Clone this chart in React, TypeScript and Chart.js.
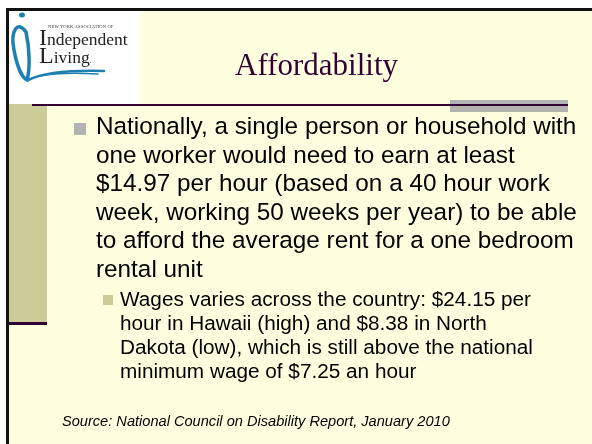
import React, { useEffect, useRef } from "react";
import { Chart, registerables } from "chart.js";

Chart.register(...registerables);

const titleText = "Affordability";
const mainLines = [
  "Nationally, a single person or household with",
  "one worker would need to earn at least",
  "$14.97 per hour (based on a 40 hour work",
  "week, working 50 weeks per year) to be able",
  "to afford the average rent for a one bedroom",
  "rental unit",
];
const subLines = [
  "Wages varies across the country: $24.15 per",
  "hour in Hawaii (high) and $8.38 in North",
  "Dakota (low), which is still above the national",
  "minimum wage of $7.25 an hour",
];
const sourceText = "Source:  National Council on Disability Report, January 2010";

const slidePlugin = {
  id: "slideDecor",
  beforeDraw(chart: any) {
    const ctx = chart.ctx as CanvasRenderingContext2D;
    ctx.save();
    ctx.fillStyle = "#ffffff";
    ctx.fillRect(0, 0, 592, 444);
    ctx.fillStyle = "#FFFFE0";
    ctx.fillRect(9, 10, 583, 434);
    // black frame
    ctx.fillStyle = "#111111";
    ctx.fillRect(6, 8, 586, 3);
    ctx.fillRect(6, 8, 3, 436);
    // logo box
    ctx.fillStyle = "#ffffff";
    ctx.fillRect(9, 11, 131, 93);
    // khaki panel
    ctx.fillStyle = "#CCCC99";
    ctx.fillRect(9, 104, 38, 218);
    ctx.fillStyle = "#330033";
    ctx.fillRect(9, 322, 38, 3);
    // gray bar + purple line
    ctx.fillStyle = "#B2B2B2";
    ctx.fillRect(450, 100, 118, 12);
    ctx.fillStyle = "#330033";
    ctx.fillRect(32, 104, 536, 2);
    // bullets
    ctx.fillStyle = "#B2B2B2";
    ctx.fillRect(74, 123, 12, 12);
    ctx.fillStyle = "#CCCC99";
    ctx.fillRect(103, 295, 10, 10);
    // logo swoosh
    ctx.strokeStyle = "#1F7FB0";
    ctx.fillStyle = "#1F7FB0";
    ctx.lineCap = "round";
    ctx.beginPath();
    ctx.ellipse(22, 15, 3, 2.5, 0, 0, Math.PI * 2);
    ctx.fill();
    ctx.lineWidth = 3.5;
    ctx.beginPath();
    ctx.moveTo(26, 32);
    ctx.bezierCurveTo(18, 20, 10, 30, 14, 50);
    ctx.bezierCurveTo(17, 66, 22, 78, 27, 80);
    ctx.bezierCurveTo(30, 70, 30, 50, 26, 32);
    ctx.stroke();
    ctx.lineWidth = 2.5;
    ctx.beginPath();
    ctx.moveTo(28, 80);
    ctx.bezierCurveTo(45, 72, 70, 70, 104, 71);
    ctx.stroke();
    ctx.lineWidth = 1.5;
    ctx.beginPath();
    ctx.moveTo(40, 76);
    ctx.bezierCurveTo(60, 72, 80, 73, 98, 74);
    ctx.stroke();
    ctx.restore();
  },
};

const abs = (s: React.CSSProperties): React.CSSProperties => ({
  position: "absolute",
  whiteSpace: "nowrap",
  margin: 0,
  ...s,
});

export default function App() {
  const ref = useRef<HTMLCanvasElement | null>(null);
  useEffect(() => {
    if (!ref.current) return;
    const chart = new Chart(ref.current, {
      type: "bar",
      data: { labels: [], datasets: [] },
      options: {
        responsive: false,
        animation: false,
        events: [],
        plugins: { legend: { display: false }, tooltip: { enabled: false }, title: { display: false } },
        scales: { x: { display: false }, y: { display: false } },
      },
      plugins: [slidePlugin],
    } as any);
    return () => chart.destroy();
  }, []);

  const sans = '"Liberation Sans", Arial, sans-serif';
  const serif = '"Liberation Serif", "Times New Roman", serif';
  return (
    <div style={{ position: "fixed", left: 0, top: 0, width: 592, height: 444, overflow: "hidden" }}>
      <canvas ref={ref} width={592} height={444} style={{ position: "absolute", left: 0, top: 0, width: 592, height: 444 }} />
      {/* logo text */}
      <div style={abs({ left: 48, top: 24, fontFamily: serif, fontSize: 4.5, color: "#333", letterSpacing: 0.2 })}>
        NEW YORK ASSOCIATION OF
      </div>
      <div style={abs({ left: 39, top: 27, fontFamily: serif, fontSize: 17.5, lineHeight: "20px", color: "#222" })}>
        <span style={{ fontSize: 24 }}>I</span>ndependent
      </div>
      <div style={abs({ left: 39, top: 45, fontFamily: serif, fontSize: 17.5, lineHeight: "20px", color: "#222" })}>
        <span style={{ fontSize: 24 }}>L</span>iving<span style={{ fontSize: 8 }}>.</span>
      </div>
      {/* title */}
      <div style={abs({ left: 235, top: 47.5, fontFamily: serif, fontSize: 31, lineHeight: "34px", color: "#330033" })}>
        {titleText}
      </div>
      {/* main bullet */}
      <div style={abs({ left: 96, top: 112.2, fontFamily: sans, fontSize: 24.3, lineHeight: "28.5px", color: "#000" })}>
        {mainLines.map((l, i) => (
          <div key={i}>{l}</div>
        ))}
      </div>
      {/* sub bullet */}
      <div style={abs({ left: 120, top: 287, fontFamily: sans, fontSize: 20.75, lineHeight: "24px", color: "#000" })}>
        {subLines.map((l, i) => (
          <div key={i}>{l}</div>
        ))}
      </div>
      {/* source */}
      <div style={abs({ left: 62, top: 413, fontFamily: sans, fontStyle: "italic", fontSize: 14.6, lineHeight: "17px", color: "#000" })}>
        {sourceText}
      </div>
    </div>
  );
}
